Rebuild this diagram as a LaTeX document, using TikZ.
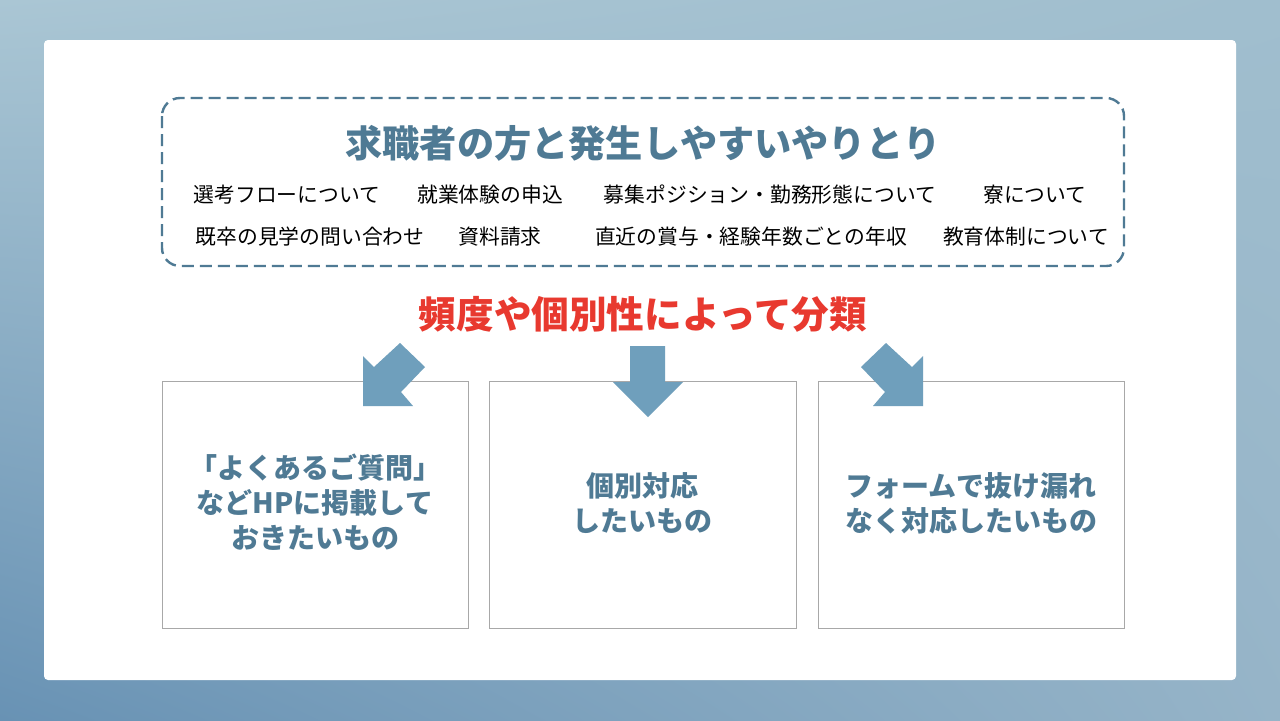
\documentclass[tikz,border=0pt]{standalone}
\usepackage{fontspec}
\usetikzlibrary{shadings}
\setmainfont{Noto Sans CJK JP}
\definecolor{slate}{HTML}{4F7A94}
\definecolor{arrowblue}{HTML}{6F9FBC}
\definecolor{alertred}{HTML}{E8392F}
\definecolor{framegray}{HTML}{A8A8A8}
\definecolor{bgul}{RGB}{170,198,212}
\definecolor{bgur}{RGB}{160,190,206}
\definecolor{bgll}{RGB}{104,146,180}
\definecolor{bglr}{RGB}{150,180,200}
\tikzset{
  topic/.style = {font=\fontsize{10.4}{12}\selectfont, text=black},
  box/.style = {draw=framegray, line width=0.5pt, fill=white},
  boxtext/.style = {font=\bfseries\fontsize{14}{17.5}\selectfont, text=slate, align=center},
  bigarrow/.style = {fill=arrowblue, draw=none}
}
\begin{document}
\begin{tikzpicture}[x = 0.5pt, y = -0.5pt]
            % background and panel
            \useasboundingbox (0, 0) rectangle (1280, 720);
            \shade [upper left = bgul, upper right = bgur, lower left = bgll, lower right = bglr]
                (0, 0) rectangle (1280, 720);
            \fill [white, rounded corners = 2pt] (44, 40) rectangle (1236, 680);
            % dashed frame
            \draw [slate, line width = 1.2pt, dash pattern = on 6pt off 3pt, rounded corners = 9pt] (162, 98) rectangle (1124, 266);
            \node (title) [font = \bfseries\fontsize{18.6}{22}\selectfont, text = slate] at (643, 143) {求職者の方と発生しやすいやりとり};
            \node (t1) [topic] at (287, 195) {選考フローについて};
            \node (t2) [topic] at (490, 195) {就業体験の申込};
            \node (t3) [topic] at (770, 195) {募集ポジション・勤務形態について};
            \node (t4) [topic] at (1035, 195) {寮について};
            \node (t5) [topic] at (310, 237) {既卒の見学の問い合わせ};
            \node (t6) [topic] at (500, 237) {資料請求};
            \node (t7) [topic] at (751, 237) {直近の賞与・経験年数ごとの年収};
            \node (t8) [topic] at (1026, 237) {教育体制について};
            \node (sort) [font = \bfseries\fontsize{18.8}{22}\selectfont, text = alertred] at (643, 314) {頻度や個別性によって分類};
            % boxes
            \draw [box] (162, 381) rectangle (468, 628);
            \draw [box] (489, 381) rectangle (796, 628);
            \draw [box] (818, 381) rectangle (1124, 628);
            \node (faq) [boxtext] at (315, 502) {「よくあるご質問」\\などHPに掲載して\\おきたいもの};
            \node (each) [boxtext] at (642, 503) {個別対応\\したいもの};
            \node (form) [boxtext] at (971, 503) {フォームで抜け漏れ\\なく対応したいもの};
            % arrows
            \fill [bigarrow] (363, 406) -- (363, 356) -- (374, 367) -- (400, 343) -- (425, 367) -- (401, 392) -- (413, 406) -- cycle;
            \fill [bigarrow] (630, 346) -- (665, 346) -- (665, 382) -- (683, 382) -- (648, 417) -- (613, 382) -- (630, 382) -- cycle;
            \fill [bigarrow] (923, 406) -- (923, 356) -- (912, 367) -- (886, 343) -- (861, 367) -- (885, 392) -- (873, 406) -- cycle;
\end{tikzpicture}
\end{document}
